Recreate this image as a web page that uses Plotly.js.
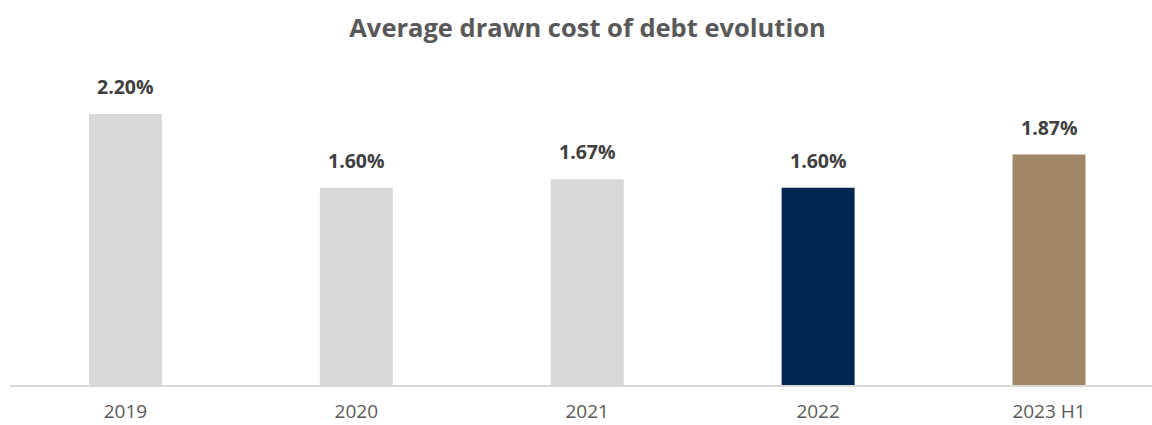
<!DOCTYPE html>
<html><head><meta charset="utf-8">
<script src="https://cdn.plot.ly/plotly-3.0.1.min.js"></script>
<style>html,body{margin:0;padding:0;background:#fff}#chart{width:1152px;height:425px}</style>
</head><body><div id="chart"></div>
<script>
const categories = ["2019", "2020", "2021", "2022", "2023 H1"];
const values = [2.20, 1.60, 1.67, 1.60, 1.87];
const labels = ["2.20%", "1.60%", "1.67%", "1.60%", "1.87%"];
const colors = ["#d9d9d9", "#d9d9d9", "#d9d9d9", "#002651", "#a08866"];

const font = "Open Sans, Liberation Sans, sans-serif";
const trace = {
  type: "bar", x: categories, y: values,
  marker: {color: colors, line: {width: 0}},
  width: 0.316, hoverinfo: "skip"
};
const annotations = categories.map((c, i) => ({
  x: i, y: values[i], text: "<b>" + labels[i] + "</b>",
  showarrow: false, yanchor: "bottom", yshift: 12,
  font: {family: font, size: 19.5, color: "#404040"}
}));
const layout = {
  width: 1152, height: 425,
  margin: {l: 9.5, r: 0, t: 75, b: 40},
  paper_bgcolor: "#fff", plot_bgcolor: "#fff",
  title: {text: "<b>Average drawn cost of debt evolution</b>", x: 0.51, xanchor: "center", y: 0.935, yanchor: "middle",
    font: {family: font, size: 25.5, color: "#595959"}},
  xaxis: {type: "category", range: [-0.5, 4.446], showgrid: false, zeroline: false,
    showline: true, linecolor: "#d9d9d9", linewidth: 1.5, ticks: "", ticklabelstandoff: 9,
    tickfont: {family: font, size: 19, color: "#595959"}},
  yaxis: {range: [0, 2.516], showgrid: false, zeroline: false, showticklabels: false, showline: false},
  annotations: annotations, showlegend: false
};
Plotly.newPlot("chart", [trace], layout, {displayModeBar: false, staticPlot: true});
</script></body></html>
